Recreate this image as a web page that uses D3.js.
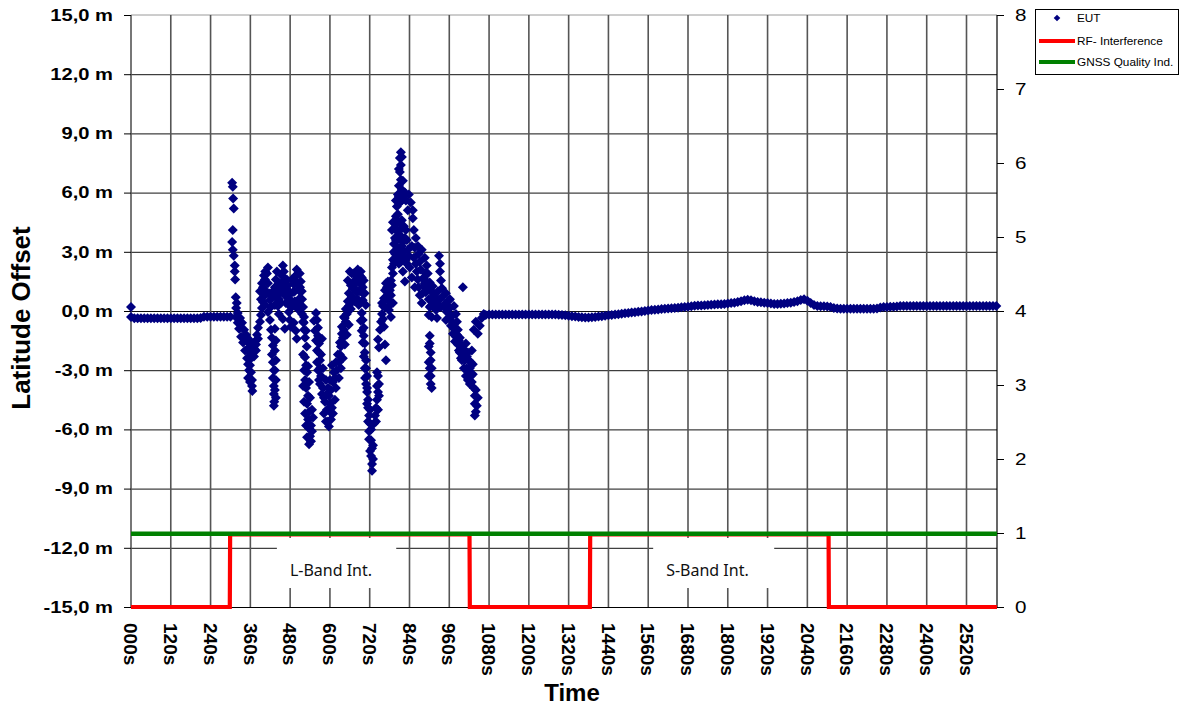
<!DOCTYPE html>
<html>
<head>
<meta charset="utf-8">
<script src="https://cdnjs.cloudflare.com/ajax/libs/d3/7.8.5/d3.min.js"></script>
<style>
  body { margin: 0; background: #fff; }
  svg { display: block; }
</style>
</head>
<body>
<script>
// ---- data ----
const timeTicks = [0, 120, 240, 360, 480, 600, 720, 840, 960, 1080, 1200, 1320, 1440, 1560, 1680, 1800, 1920, 2040, 2160, 2280, 2400, 2520];
const timeLabels = ["000s", "120s", "240s", "360s", "480s", "600s", "720s", "840s", "960s", "1080s", "1200s", "1320s", "1440s", "1560s", "1680s", "1800s", "1920s", "2040s", "2160s", "2280s", "2400s", "2520s"];
const offsetTicks = [-15, -12, -9, -6, -3, 0, 3, 6, 9, 12, 15];
const offsetLabels = ["-15,0 m", "-12,0 m", "-9,0 m", "-6,0 m", "-3,0 m", "0,0 m", "3,0 m", "6,0 m", "9,0 m", "12,0 m", "15,0 m"];
const qualityTicks = [0, 1, 2, 3, 4, 5, 6, 7, 8];

// EUT latitude offset [time s, metres]
const eutBefore = [
  [0, 0.2], [0, -0.3], [10, -0.37], [20, -0.37], [30, -0.37], [40, -0.37], [50, -0.37], [60, -0.37],
  [70, -0.37], [80, -0.37], [90, -0.37], [100, -0.37], [110, -0.37], [120, -0.37], [130, -0.37],
  [140, -0.37], [150, -0.37], [160, -0.37], [170, -0.37], [180, -0.37], [190, -0.37], [200, -0.37],
  [210, -0.36], [220, -0.29], [230, -0.29], [240, -0.29], [250, -0.29], [260, -0.29], [270, -0.29],
  [280, -0.29], [290, -0.29], [300, -0.29]
];

const eutInterference = [
  [305, 6.5], [307, 6.3], [308, 5.7], [310, 5.2], [307, 4.1], [305, 3.5], [307, 3.1], [310, 2.8],
  [313, 2.3], [313, 2.0], [314, 1.6], [316, 0.7], [319, 0.4], [317, 0.15],
  [322, -0.1], [329, -0.35], [335, -0.6], [341, -0.95], [344, -1.25], [350, -1.55], [353, -1.9],
  [359, -2.1], [362, -2.4], [359, -2.75], [362, -3.1], [365, -3.5], [365, -3.8], [366, -4.05],
  [347, -1.2], [356, -1.45], [368, -1.7],
  [316, -0.3], [322, -0.6], [326, -0.9], [332, -1.3], [338, -1.6], [344, -2.0], [350, -2.4],
  [353, -2.7], [356, -3.0], [353, -3.4], [359, -3.6],
  [365, -2.0], [371, -1.9], [377, -1.7], [383, -1.4], [371, -2.3], [377, -2.0],
  [374, -1.55], [380, -1.2], [383, -0.85], [389, -0.55], [392, -0.2], [395, 0.15], [398, 0.45],
  [401, 0.75], [404, 1.05], [395, 1.4], [401, 1.8], [405, 2.0], [413, 2.2],
  [389, 1.0], [404, 0.3], [410, 0.9],
  [392, 0.6], [398, 1.2], [404, 1.6], [410, 1.9], [413, 1.4], [416, 0.9], [422, 0.2], [428, 0.8],
  [434, 1.2], [437, 1.6], [440, 2.0], [443, 1.3], [449, 0.9], [452, 0.4], [455, 1.2], [461, 1.5],
  [464, 0.8], [467, 0.4], [473, 1.3], [479, 0.9], [485, 1.6], [488, 0.4], [494, 1.0], [497, 0.3],
  [500, 1.4], [506, 0.4], [509, 1.9], [512, 1.5], [515, 1.0], [519, 0.2], [521, -0.6],
  [419, 0.55], [425, 0.95], [434, 0.3], [413, -0.05], [419, -0.45], [422, -0.95], [425, -1.35],
  [428, -1.75], [425, -2.2], [428, -2.6], [431, -3.0], [428, -3.4], [431, -3.8], [431, -4.2],
  [432, -4.6], [431, -4.8],
  [434, -0.9], [437, -1.5], [434, -2.0], [437, -2.5], [434, -3.0], [437, -3.5], [434, -4.0], [437, -4.4],
  [437, 1.05], [440, 0.65], [443, 0.25], [446, -0.15], [449, 1.4], [455, 1.8], [458, 2.3], [461, 2.0],
  [464, 1.55], [467, 1.15], [470, 0.75], [473, 0.35], [476, -0.05], [479, -0.45], [482, -0.8],
  [482, 0.55], [488, 0.95], [491, 1.35], [497, 1.8], [500, 2.1], [503, 1.45], [506, 1.05], [509, 0.65],
  [513, 0.25], [516, -0.15], [519, -0.55], [522, -0.95], [525, -1.35],
  [446, 0.6], [452, 1.0], [470, 1.6], [476, 1.0], [485, 0.2], [494, 0.5], [503, 0.1],
  [458, -0.4], [464, -0.9], [491, -0.6], [497, -1.0], [500, -1.4],
  [504, 1.9], [510, 1.2], [516, 0.6], [522, -0.3], [528, -1.0], [530, -1.8],
  [525, -2.35], [528, -2.75], [531, -3.1], [525, -3.5], [528, -3.9], [534, -4.3], [531, -4.7],
  [537, -5.1], [534, -5.5], [537, -5.95], [540, -6.35], [537, -6.75], [546, -6.1], [549, -5.4],
  [519, -2.2], [522, -3.0], [519, -3.8], [522, -4.6], [525, -5.2], [528, -5.8], [531, -6.4],
  [543, -6.6], [543, -5.8], [546, -5.0], [540, -4.4], [537, -3.6], [534, -2.8],
  [558, -0.1], [561, -0.45], [564, -0.85], [564, -1.25], [567, -1.65], [567, -2.1], [570, -2.5],
  [570, -2.9], [573, -3.3], [570, -3.7], [576, -4.2],
  [552, -0.5], [555, -1.0], [558, -1.5], [561, -2.0], [561, -2.6], [564, -3.0], [567, -3.5],
  [573, -2.2], [576, -1.4], [579, -2.9], [579, -3.9], [582, -4.4],
  [585, -4.6], [591, -5.0], [594, -5.6],
  [588, -3.5], [594, -3.9], [597, -4.3], [600, -4.7], [600, -5.1], [603, -5.5], [597, -5.85],
  [609, -5.2], [615, -4.5], [606, -2.75], [612, -3.1],
  [582, -5.2], [588, -5.6], [591, -4.2], [606, -4.9], [603, -4.0], [609, -3.6], [618, -3.9], [600, -3.5],
  [615, -3.4], [621, -3.0], [627, -2.6], [630, -2.2], [633, -1.8], [639, -1.35], [642, -0.95],
  [648, -0.55], [651, -0.15], [657, 0.25], [660, 0.55], [645, -0.35], [636, -1.15],
  [618, -2.6], [624, -2.2], [630, -1.6], [636, -0.8], [642, -0.3], [648, 0.1], [654, 0.5],
  [627, -3.4], [633, -2.9], [639, -2.4], [645, -1.7], [651, -1.2], [657, -0.7],
  [666, 0.75], [669, 1.15], [675, 1.55], [678, 1.85], [684, 2.1], [690, 1.8], [693, 1.35], [696, 0.95],
  [699, 0.55], [681, 0.95], [672, 1.35], [654, 1.55], [660, 2.0], [702, 1.55], [687, 0.3], [675, 0.5],
  [690, 1.0],
  [663, 1.3], [666, 1.9], [669, 0.5], [672, 1.9], [678, 1.1], [681, 1.5], [684, 0.6], [687, 1.6],
  [693, 2.0], [696, 1.7], [699, 1.2], [705, 0.9], [708, 0.3], [663, 0.1], [657, 0.9],
  [696, -0.1], [699, -0.45], [702, -0.85], [702, -1.25], [705, -1.65], [705, -2.1], [709, -2.5],
  [693, -0.5], [696, -1.0], [699, -1.6], [702, -2.3], [705, -2.9],
  [745, -1.45], [748, -1.85],
  [709, -2.9], [712, -3.3], [709, -3.7], [712, -4.1], [715, -4.5], [715, -4.9], [718, -5.3],
  [721, -5.7], [718, -6.1], [724, -6.55], [727, -6.95], [724, -7.35], [727, -7.75], [727, -8.1],
  [706, -3.4], [712, -4.7], [715, -5.6], [718, -6.5], [721, -7.1], [730, -7.5], [730, -6.8],
  [724, -6.0], [721, -5.0], [712, -3.9],
  [745, -3.3], [748, -3.7], [745, -4.1], [742, -4.5], [739, -4.9], [736, -5.3], [733, -5.7],
  [742, -3.1], [748, -4.3], [745, -5.0], [739, -5.6], [742, -3.8],
  [751, -0.95], [754, -0.55], [757, -0.15], [760, 0.25], [763, 0.65], [766, 1.05], [769, 1.4],
  [775, 0.55], [778, 0.05], [781, 1.05], [784, 1.55], [787, 2.2], [790, 2.6], [793, 3.0], [793, 3.4],
  [796, 3.7], [787, 4.1], [790, 4.5], [799, 4.8], [766, -1.7], [769, -2.5],
  [757, 0.4], [760, -0.4], [763, -0.8], [766, 0.2], [769, 0.7], [772, 1.2], [775, 1.5], [778, 0.9],
  [781, 0.3], [784, 0.8], [787, 1.3], [790, 1.9], [784, -0.3], [790, 0.4],
  [814, 8.05], [811, 7.75], [814, 7.4], [811, 7.05], [814, 6.65], [808, 6.35], [817, 6.15], [805, 5.9],
  [823, 5.85], [811, 5.5], [799, 5.6], [829, 5.6], [838, 5.9], [844, 5.5], [850, 5.1], [835, 5.1],
  [850, 4.7],
  [802, 5.3], [805, 5.6], [808, 5.8], [817, 5.6], [820, 5.9], [826, 6.0], [814, 5.9], [820, 6.6],
  [808, 7.2], [817, 7.8],
  [796, 4.2], [799, 3.6], [802, 3.1], [805, 2.7], [808, 2.4], [814, 3.8], [817, 3.3],
  [829, 4.1], [832, 3.6], [835, 3.1], [838, 2.8],
  [793, 2.4], [796, 2.9], [799, 2.5], [802, 3.6], [805, 4.0], [808, 3.2], [811, 2.9], [814, 2.5],
  [817, 2.8], [820, 3.5], [823, 3.0], [826, 3.7], [829, 2.6], [832, 2.4], [799, 4.4], [805, 4.9],
  [808, 4.5], [817, 4.6], [823, 4.3], [811, 4.1],
  [853, 4.1], [859, 3.7], [865, 3.3], [868, 2.9], [871, 2.5], [874, 2.1], [880, 1.65], [883, 1.25],
  [889, 0.95],
  [877, 3.1], [886, 2.7], [892, 2.3], [895, 1.9], [901, 1.45], [904, 1.05], [907, 0.65], [904, 0.25],
  [910, 1.25], [913, 0.85], [916, 0.45], [920, 0.05], [923, -0.35],
  [929, 2.8], [932, 2.4], [932, 2.0], [935, 1.55], [938, 1.15],
  [820, 2.0], [826, 1.5], [841, 2.2], [847, 1.7], [856, 1.2],
  [847, 3.3], [853, 2.7], [856, 3.2], [859, 2.4], [862, 2.0], [865, 1.6], [868, 1.2], [871, 0.8],
  [877, 0.4], [880, 0.9], [886, 1.4], [889, 1.9], [892, 1.5], [895, 1.1], [898, 0.6], [901, 0.2],
  [898, -0.2], [907, -0.3], [913, 0.3], [919, 0.7], [926, 1.0], [926, 0.3], [932, 0.6], [935, 0.2],
  [901, -1.25], [901, -1.65], [904, -2.1], [904, -2.5], [901, -2.9], [904, -3.3], [904, -3.7],
  [898, -1.8], [898, -2.6], [898, -3.3], [907, -2.9], [907, -3.9],
  [1001, 1.2],
  [941, 0.75], [947, 0.35], [953, -0.05], [959, 0.55], [962, 0.15], [968, -0.25], [974, 0.25],
  [980, -0.15], [983, -0.55], [950, -0.45],
  [944, 0.2], [950, 0.9], [956, 0.1], [962, 0.6], [965, -0.3], [971, -0.6], [977, -0.9], [983, -1.2],
  [989, -1.5], [995, -1.9], [1001, -2.3], [1007, -2.0], [1013, -2.3], [1019, -3.1], [1025, -2.6],
  [1031, -2.7], [1031, -3.2], [1028, -3.6], [1040, -4.0], [1043, -4.8],
  [974, -0.9], [980, -1.3], [986, -1.7], [992, -2.1], [998, -2.5], [1004, -2.9], [1010, -3.3],
  [1016, -3.5], [1022, -3.7],
  [965, -0.75], [971, -1.15], [977, -1.55], [986, -0.95], [992, -1.35], [998, -1.75], [1004, -2.1],
  [989, -2.0], [995, -2.4], [1007, -2.5], [1013, -2.9], [1019, -2.5], [1022, -2.9], [1025, -3.3],
  [1010, -1.65], [1016, -2.1], [1028, -2.0],
  [1034, -3.9], [1037, -4.3], [1037, -4.7], [1040, -5.1], [1037, -5.3], [1046, -4.4],
  [1034, -0.95], [1040, -0.55], [1046, -1.15], [1052, -0.75], [1058, -0.35], [1064, -0.15]
];

const eutAfter = [
  [1070, -0.2], [1080, -0.18], [1090, -0.18], [1100, -0.18], [1110, -0.18], [1120, -0.18], [1130, -0.18],
  [1140, -0.18], [1150, -0.18], [1160, -0.18], [1170, -0.18], [1180, -0.18], [1190, -0.18], [1200, -0.18],
  [1210, -0.18], [1220, -0.18], [1230, -0.18], [1240, -0.18], [1250, -0.18], [1260, -0.18], [1270, -0.18],
  [1280, -0.18], [1290, -0.19], [1300, -0.2], [1310, -0.22], [1320, -0.24], [1330, -0.26], [1340, -0.28],
  [1350, -0.3], [1360, -0.32], [1370, -0.33], [1380, -0.33], [1390, -0.32], [1400, -0.3], [1410, -0.28],
  [1420, -0.26], [1430, -0.24], [1440, -0.22], [1450, -0.2], [1460, -0.18], [1470, -0.16], [1480, -0.14],
  [1490, -0.12], [1500, -0.1], [1510, -0.08], [1520, -0.06], [1530, -0.04], [1540, -0.02], [1550, 0.0],
  [1560, 0.03], [1570, 0.05], [1580, 0.06], [1590, 0.08], [1600, 0.1], [1610, 0.11], [1620, 0.13],
  [1630, 0.14], [1640, 0.15], [1650, 0.17], [1660, 0.19], [1670, 0.2], [1680, 0.22], [1690, 0.24],
  [1700, 0.27], [1710, 0.28], [1720, 0.28], [1730, 0.29], [1740, 0.3], [1750, 0.32], [1760, 0.33],
  [1770, 0.34], [1780, 0.34], [1790, 0.36], [1800, 0.38], [1810, 0.4], [1820, 0.42], [1830, 0.46],
  [1840, 0.5], [1850, 0.55], [1860, 0.57], [1870, 0.55], [1880, 0.5], [1890, 0.46], [1900, 0.44],
  [1910, 0.42], [1920, 0.4], [1930, 0.38], [1940, 0.36], [1950, 0.36], [1960, 0.37], [1970, 0.38],
  [1980, 0.4], [1990, 0.42], [2000, 0.45], [2010, 0.5], [2020, 0.56], [2030, 0.6], [2040, 0.52],
  [2050, 0.4], [2060, 0.3], [2070, 0.25], [2080, 0.24], [2090, 0.24], [2100, 0.23], [2110, 0.2],
  [2120, 0.15], [2130, 0.13], [2140, 0.12], [2150, 0.12], [2160, 0.12], [2170, 0.12], [2180, 0.12],
  [2190, 0.12], [2200, 0.12], [2210, 0.12], [2220, 0.12], [2230, 0.12], [2240, 0.12], [2250, 0.13],
  [2260, 0.18], [2270, 0.2], [2280, 0.2], [2290, 0.21], [2300, 0.22], [2310, 0.23], [2320, 0.25],
  [2330, 0.25], [2340, 0.25], [2350, 0.25], [2360, 0.25], [2370, 0.25], [2380, 0.25], [2390, 0.25],
  [2400, 0.25], [2410, 0.25], [2420, 0.25], [2430, 0.25], [2440, 0.25], [2450, 0.25], [2460, 0.25],
  [2470, 0.25], [2480, 0.25], [2490, 0.25], [2500, 0.25], [2510, 0.25], [2520, 0.25], [2530, 0.25],
  [2540, 0.25], [2550, 0.25], [2560, 0.25], [2570, 0.25], [2580, 0.25], [2590, 0.25], [2600, 0.25],
  [2610, 0.25]
];

// right axis series [time s, level]
const rfInterference = [[0, 0], [298, 0], [299, 0.98], [1021, 0.98], [1022, 0], [1384, 0], [1385, 0.98],
  [2104, 0.98], [2105, 0], [2612, 0]];
const gnssQuality = [[0, 0.99], [2612, 0.99]];

const bandNotes = [
  { label: "L-Band Int.", from: 440, to: 800 },
  { label: "S-Band Int.", from: 1575, to: 1940 }
];

// ---- drawing ----
const width = 1182, height = 709;
const plotLeft = 131, plotRight = 997, plotTop = 15, plotBottom = 607;
const arial = "'Liberation Sans', Arial, sans-serif";

const svg = d3.select("body").append("svg")
    .attr("width", width)
    .attr("height", height);

const x = d3.scaleLinear().domain([0, 2612]).range([plotLeft, plotRight]);
const y = d3.scaleLinear().domain([-15, 15]).range([plotBottom, plotTop]);
const y2 = d3.scaleLinear().domain([0, 8]).range([plotBottom, plotTop]);

// top border
svg.append("line")
    .attr("x1", plotLeft).attr("x2", plotRight).attr("y1", plotTop).attr("y2", plotTop)
    .attr("stroke", "#9a9a9a").attr("stroke-width", 1);

// horizontal grid
svg.append("g").selectAll("line").data(offsetTicks.slice(1, -1)).join("line")
    .attr("x1", plotLeft).attr("x2", plotRight)
    .attr("y1", d => y(d) + 0.5).attr("y2", d => y(d) + 0.5)
    .attr("stroke", "#111").attr("stroke-width", 1);

// vertical grid
svg.append("g").selectAll("line").data(timeTicks).join("line")
    .attr("x1", d => x(d)).attr("x2", d => x(d))
    .attr("y1", plotTop).attr("y2", plotBottom)
    .attr("stroke", "#555").attr("stroke-width", 1.6);

// white text boxes over the grid
const notes = svg.append("g");
notes.selectAll("rect").data(bandNotes).join("rect")
    .attr("x", d => x(d.from)).attr("y", 538)
    .attr("width", d => x(d.to) - x(d.from)).attr("height", 50)
    .attr("fill", "#fff");
notes.selectAll("text").data(bandNotes).join("text")
    .attr("x", d => x(d.from) + 13).attr("y", 576)
    .attr("font-family", "'Noto Sans', sans-serif").attr("font-size", 16)
    .attr("fill", "#111")
    .text(d => d.label);

// axis lines
svg.append("line")
    .attr("x1", plotLeft - 7).attr("x2", plotRight).attr("y1", plotBottom + 0.5).attr("y2", plotBottom + 0.5)
    .attr("stroke", "#000").attr("stroke-width", 1.2);
svg.append("line")
    .attr("x1", plotRight).attr("x2", plotRight).attr("y1", plotTop).attr("y2", plotBottom)
    .attr("stroke", "#000").attr("stroke-width", 1.2);

// left ticks + labels
const leftAxis = svg.append("g");
leftAxis.selectAll("line").data(offsetTicks).join("line")
    .attr("x1", plotLeft - 7).attr("x2", plotLeft)
    .attr("y1", d => y(d) + 0.5).attr("y2", d => y(d) + 0.5)
    .attr("stroke", "#000");
leftAxis.selectAll("text").data(offsetTicks).join("text")
    .attr("transform", d => `translate(113,${y(d)}) scale(1.26,1)`)
    .attr("dy", "0.36em")
    .attr("text-anchor", "end")
    .attr("font-family", arial).attr("font-weight", "bold").attr("font-size", 16)
    .text((d, i) => offsetLabels[i]);

// right ticks + labels
const rightAxis = svg.append("g");
rightAxis.selectAll("line").data(qualityTicks).join("line")
    .attr("x1", plotRight).attr("x2", plotRight + 7)
    .attr("y1", d => y2(d) + 0.5).attr("y2", d => y2(d) + 0.5)
    .attr("stroke", "#000");
rightAxis.selectAll("text").data(qualityTicks).join("text")
    .attr("transform", d => `translate(1015,${y2(d)}) scale(1.25,1)`)
    .attr("dy", "0.36em")
    .attr("font-family", arial).attr("font-size", 16.5)
    .text(d => d);

// bottom labels, rotated
svg.append("g").selectAll("text").data(timeTicks).join("text")
    .attr("transform", d => `translate(${x(d)},623) rotate(90)`)
    .attr("dy", "0.36em")
    .attr("font-family", arial).attr("font-weight", "bold").attr("font-size", 19)
    .text((d, i) => timeLabels[i]);

// axis titles
svg.append("text")
    .attr("transform", "translate(30,318) rotate(-90)")
    .attr("text-anchor", "middle")
    .attr("font-family", arial).attr("font-weight", "bold").attr("font-size", 26)
    .text("Latitude Offset");
svg.append("text")
    .attr("x", 572).attr("y", 701)
    .attr("text-anchor", "middle")
    .attr("font-family", arial).attr("font-weight", "bold").attr("font-size", 24)
    .text("Time");

// RF and GNSS lines on the right axis
let line = d3.line()
    .x(d => x(d[0]))
    .y(d => y2(d[1]));

svg.append("path").datum(rfInterference)
    .attr("d", line)
    .attr("fill", "none").attr("stroke", "#ff0000").attr("stroke-width", 4.2);
svg.append("path").datum(gnssQuality)
    .attr("d", line)
    .attr("fill", "none").attr("stroke", "#008000").attr("stroke-width", 4.5);

// EUT diamonds
const diamond = "M0,-5L5,0L0,5L-5,0Z";
const eutPoints = eutBefore.concat(eutInterference, eutAfter);
svg.append("g").selectAll("path").data(eutPoints).join("path")
    .attr("transform", d => `translate(${x(d[0])},${y(d[1])})`)
    .attr("d", diamond)
    .attr("fill", "#000080");

// legend
const legend = svg.append("g");
legend.append("rect")
    .attr("x", 1035.5).attr("y", 9.5).attr("width", 143).attr("height", 65)
    .attr("fill", "#fff").attr("stroke", "#000").attr("stroke-width", 1);
legend.append("path")
    .attr("transform", "translate(1057,18)")
    .attr("d", "M0,-3.3L3.3,0L0,3.3L-3.3,0Z")
    .attr("fill", "#000080");
legend.append("line")
    .attr("x1", 1039).attr("x2", 1075).attr("y1", 41).attr("y2", 41)
    .attr("stroke", "#ff0000").attr("stroke-width", 4);
legend.append("line")
    .attr("x1", 1039).attr("x2", 1075).attr("y1", 62).attr("y2", 62)
    .attr("stroke", "#008000").attr("stroke-width", 4);
legend.selectAll("text").data(["EUT", "RF- Interference", "GNSS Quality Ind."]).join("text")
    .attr("transform", (d, i) => `translate(1077,${[18, 41, 62][i]}) scale(1.18,1)`)
    .attr("dy", "0.36em")
    .attr("font-family", arial).attr("font-size", 10)
    .text(d => d);
</script>
</body>
</html>
